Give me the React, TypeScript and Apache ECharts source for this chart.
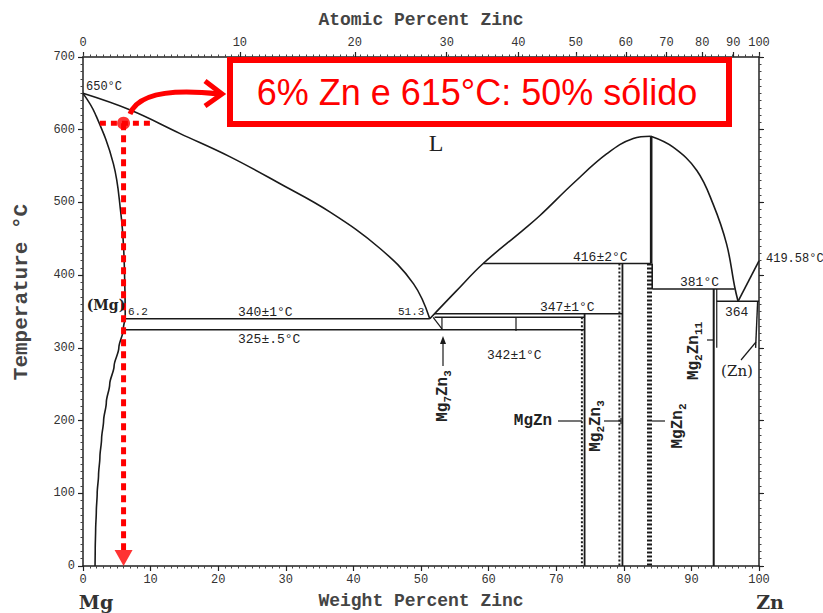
import React, { useEffect, useRef } from "react";
import * as echarts from "echarts";

// ---- data (wt% Zn, °C) ----
const atomicTickLabels = ["0", "10", "20", "30", "40", "50", "60", "70", "80", "90", "100"];
const atomicTickWt = [0, 23.2, 40.2, 53.8, 64.4, 72.9, 80.3, 86.3, 91.6, 96.2, 100];

const liquidusMg = [[0, 650], [7, 627], [14.3, 595], [21.7, 563], [29.1, 526], [36.5, 487], [43.9, 437], [48.9, 388], [51.3, 340]];
const solidusMg = [[0, 650], [1.8, 622], [4.5, 553], [5.6, 485], [6.0, 439], [6.2, 380], [6.25, 340]];
const solvusMg = [[6.25, 340], [5.95, 325], [5.3, 300], [4.6, 275], [3.95, 250], [3.45, 225], [3.05, 200], [2.75, 175], [2.5, 150], [2.3, 125], [2.1, 100], [1.97, 75], [1.87, 50], [1.81, 25], [1.78, 0]];
const liquidusMid = [[51.3, 340], [55.2, 378], [59.2, 416], [65.1, 462], [67.6, 482], [72.5, 526], [77.5, 567], [81.4, 588], [84, 591]];
const liquidusZnRich = [[84, 591], [87.3, 576], [90.8, 544], [93.2, 498], [95.2, 443], [96.4, 384], [96.9, 364]];
const liquidusZn = [[96.9, 364], [100, 419.58]];

const eutectic340 = [[6.25, 340], [51.3, 340]];
const eutectoid325 = [[5.95, 325], [74.2, 325]];
const line342 = [[52.0, 342], [74.2, 342]];
const mg7zn3Left = [[51.8, 342], [53.1, 326]];
const mg7zn3Right = [[53.1, 342], [53.1, 325]];
const peritectic347 = [[52.0, 347], [79.8, 347]];
const mgZnSolid = [[74.2, 347], [74.2, 0]];
const mgZnDotted = [[73.8, 342], [73.8, 0]];
const peritectic416 = [[59.2, 416], [84.0, 416]];
const mg2zn3Solid = [[79.8, 416], [79.8, 0]];
const mg2zn3Dotted = [[79.35, 416], [79.35, 0]];
const mgZn2Top = [[84.05, 591], [84.05, 416]];
const mgZn2Right = [[84.2, 416], [84.2, 381]];
const mgZn2Band = [[83.8, 416], [83.8, 0]];
const peritectic381 = [[84.2, 381], [96.4, 381]];
const mg2zn11A = [[93.3, 381], [93.3, 0]];
const mg2zn11B = [[93.75, 381], [93.75, 300]];
const eutectic364 = [[93.75, 364], [100, 364]];
const znSolvus = [[99.8, 364], [99.5, 300]];

// red annotation
const markComp = 6;
const markTemp = 609;
const redHoriz = [[2.5, markTemp], [10.2, markTemp]];
const redVert = [[markComp, markTemp], [markComp, 22]];
const redDot = [[markComp, markTemp]];
const redArrowHead = [[markComp, 11]];

const BLACK = "#1a1a1a";
const MONO = "'Liberation Mono', 'DejaVu Sans Mono', monospace";

function ln(data: number[][], width = 1.6, type: any = "solid", smooth: any = false, color = BLACK, z = 2, mono?: string) {
  return {
    type: "line",
    data,
    xAxisIndex: 0,
    yAxisIndex: 0,
    symbol: "none",
    showSymbol: false,
    silent: true,
    smooth,
    smoothMonotone: mono,
    z,
    lineStyle: { color, width, type, cap: "butt" },
  };
}

function txt(text: string, x: number, y: number, fontSize = 13, align = "left", extra: any = {}) {
  return {
    type: "text",
    x,
    y,
    z: 50,
    style: {
      text,
      fill: "#222",
      fontFamily: MONO,
      fontSize,
      align,
      verticalAlign: "middle",
      textAlign: align,
      textVerticalAlign: "middle",
      ...extra,
    },
  };
}

const richSub = {
  a: { fontFamily: MONO, fontSize: 16, fontWeight: "bold", lineHeight: 20, verticalAlign: "middle", fill: "#222", color: "#222" },
  s: { fontFamily: MONO, fontSize: 11, fontWeight: "bold", lineHeight: 10, verticalAlign: "bottom", fill: "#222", color: "#222" },
};

function rotTxt(text: string, x: number, y: number) {
  return {
    type: "text",
    x,
    y,
    rotation: Math.PI / 2,
    z: 50,
    style: {
      text,
      rich: richSub,
      align: "center",
      verticalAlign: "middle",
      textAlign: "center",
      textVerticalAlign: "middle",
    },
  };
}

function seg(x1: number, y1: number, x2: number, y2: number, w = 1.3) {
  return { type: "line", z: 50, shape: { x1, y1, x2, y2 }, style: { stroke: BLACK, lineWidth: w } };
}

export default function App() {
  const ref = useRef<HTMLDivElement>(null);
  useEffect(() => {
    document.body.style.margin = "0";
    const chart = echarts.init(ref.current!, null, { renderer: "svg" });
    const axisLineStyle = { color: "#222", width: 1.5 };
    const option: any = {
      animation: false,
      backgroundColor: "#fff",
      grid: { left: 83, right: 64, top: 57, bottom: 47, containLabel: false, outerBoundsMode: "none" },
      xAxis: [
        {
          type: "value", position: "bottom", min: 0, max: 100, interval: 10,
          axisLine: { show: true, onZero: false, lineStyle: axisLineStyle },
          axisTick: { show: true, length: 5, lineStyle: { color: "#222", width: 1.2 } },
          minorTick: { show: true, splitNumber: 10, length: 2.5, lineStyle: { color: "#444", width: 1 } },
          axisLabel: { fontFamily: MONO, fontSize: 12, color: "#333", margin: 8 },
          splitLine: { show: false }, minorSplitLine: { show: false },
        },
        {
          type: "value", position: "top", min: 0, max: 100,
          axisLine: { show: true, onZero: false, lineStyle: axisLineStyle },
          axisTick: { show: true, length: 5, customValues: atomicTickWt, lineStyle: { color: "#222", width: 1.2 } },
          axisLabel: {
            fontFamily: MONO, fontSize: 12, color: "#333", margin: 8,
            customValues: atomicTickWt,
            formatter: (v: number) => {
              let best = 0;
              atomicTickWt.forEach((w, i) => { if (Math.abs(w - v) < Math.abs(atomicTickWt[best] - v)) best = i; });
              return atomicTickLabels[best];
            },
          },
          splitLine: { show: false },
        },
        {
          type: "value", position: "top", min: 0, max: 100, interval: 1,
          axisLine: { show: false, onZero: false },
          axisTick: { show: true, length: 2.5, lineStyle: { color: "#444", width: 1 } },
          axisLabel: { show: false },
          splitLine: { show: false },
        },
      ],
      yAxis: [
        {
          type: "value", position: "left", min: 0, max: 700, interval: 100,
          axisLine: { show: true, onZero: false, lineStyle: axisLineStyle },
          axisTick: { show: true, length: 5, lineStyle: { color: "#222", width: 1.2 } },
          minorTick: { show: true, splitNumber: 10, length: 2.5, lineStyle: { color: "#444", width: 1 } },
          axisLabel: { fontFamily: MONO, fontSize: 12, color: "#333", margin: 8 },
          splitLine: { show: false }, minorSplitLine: { show: false },
        },
        {
          type: "value", position: "right", min: 0, max: 700, interval: 100,
          axisLine: { show: true, onZero: false, lineStyle: axisLineStyle },
          axisTick: { show: true, length: 5, lineStyle: { color: "#222", width: 1.2 } },
          minorTick: { show: true, splitNumber: 10, length: 2.5, lineStyle: { color: "#444", width: 1 } },
          axisLabel: { show: false },
          splitLine: { show: false }, minorSplitLine: { show: false },
        },
      ],
      series: [
        ln(liquidusMg, 1.6, "solid", 0.4),
        ln(solidusMg, 1.6, "solid", 0.4),
        ln(solvusMg, 1.6, "solid", 0.3, BLACK, 2, "y"),
        ln(liquidusMid, 1.6, "solid", 0.4),
        ln(liquidusZnRich, 1.6, "solid", 0.4),
        ln(liquidusZn),
        ln(eutectic340),
        ln(eutectoid325),
        ln(line342),
        ln(mg7zn3Left, 1.2),
        ln(mg7zn3Right, 1.2),
        ln(peritectic347),
        ln(mgZnSolid, 1.8),
        ln(mgZnDotted, 2, [2, 2]),
        ln(peritectic416),
        ln(mg2zn3Solid, 1.8),
        ln(mg2zn3Dotted, 2, [2, 2]),
        ln(mgZn2Top, 2.6),
        ln(mgZn2Right, 1.6),
        ln(mgZn2Band, 5, [2, 2]),
        ln(peritectic381),
        ln(mg2zn11A, 2),
        ln(mg2zn11B, 1.2),
        ln(eutectic364),
        ln(znSolvus, 1.4),
        ln(redHoriz, 5, [6, 5], false, "#ff0000", 5),
        ln(redVert, 5, [7, 5], false, "#ff0000", 5),
        {
          type: "scatter", data: redDot, xAxisIndex: 0, yAxisIndex: 0, symbol: "circle", symbolSize: 13,
          itemStyle: { color: "#ff0000" }, z: 6, silent: true,
        },
        {
          type: "scatter", data: redArrowHead, xAxisIndex: 0, yAxisIndex: 0, symbol: "triangle", symbolRotate: 180,
          symbolSize: [18, 16], itemStyle: { color: "#ff0000" }, z: 6, silent: true,
        },
      ],
      graphic: [
        // axis names
        txt("Atomic Percent Zinc", 421, 20, 18, "center", { fontWeight: "bold", fill: "#444" }),
        txt("Weight Percent Zinc", 421, 601, 18, "center", { fontWeight: "bold", fill: "#444" }),
        {
          type: "text", x: 21, y: 292, rotation: Math.PI / 2, z: 50,
          style: { text: "Temperature °C", fill: "#444", fontFamily: MONO, fontWeight: "bold", fontSize: 21,
            align: "center", verticalAlign: "middle", textAlign: "center", textVerticalAlign: "middle" },
        },
        txt("Mg", 96, 602, 19, "center", { fontFamily: "'DejaVu Serif', serif", fontWeight: "bold", fill: "#333" }),
        txt("Zn", 770, 602, 19, "center", { fontFamily: "'DejaVu Serif', serif", fontWeight: "bold", fill: "#333" }),
        // diagram annotations
        txt("650°C", 86, 87, 12),
        txt("L", 436, 143, 24, "center", { fontFamily: "'Liberation Serif', serif" }),
        txt("(Mg)", 106, 305, 14, "center", { fontFamily: "'DejaVu Serif', serif", fontWeight: "bold" }),
        txt("6.2", 128, 312, 11),
        txt("340±1°C", 238, 312, 13),
        txt("325±.5°C", 238, 339, 13),
        txt("51.3", 398, 312, 11),
        txt("347±1°C", 540, 307, 13),
        txt("342±1°C", 487, 355, 13),
        txt("416±2°C", 573, 257, 13),
        txt("381°C", 680, 282, 13),
        txt("364", 725, 312, 13),
        txt("419.58°C", 766, 259, 12),
        txt("(Zn)", 737, 371, 15, "center", { fontFamily: "'DejaVu Serif', serif" }),
        txt("MgZn", 533, 421, 16, "center", { fontWeight: "bold" }),
        rotTxt("{a|Mg}{s|7}{a|Zn}{s|3}", 443, 396),
        rotTxt("{a|Mg}{s|2}{a|Zn}{s|3}", 596, 426),
        rotTxt("{a|MgZn}{s|2}", 678, 426),
        rotTxt("{a|Mg}{s|2}{a|Zn}{s|11}", 694, 351),
        // leaders
        seg(443, 366, 443, 342, 1.2),
        { type: "polygon", z: 50, shape: { points: [[443, 336], [440, 344], [446, 344]] }, style: { fill: BLACK } },
        seg(516, 318, 516, 331, 1.2),
        seg(558, 421, 582, 421, 1.2),
        seg(604, 421, 621, 421, 1.2),
        seg(621, 418, 621, 424, 1.2),
        seg(652, 421, 665, 421, 1.2),
        seg(707, 340, 714, 340, 1.2),
        seg(741, 360, 756, 342, 1.2),
        // red callout
        {
          type: "rect", z: 60, shape: { x: 230, y: 60, width: 499, height: 64 },
          style: { fill: "#ffffff", stroke: "#ff0000", lineWidth: 6 },
        },
        {
          type: "text", x: 477, y: 92, z: 61,
          style: { text: "6% Zn e 615°C: 50% sólido", fill: "#ff0000", fontFamily: "'Liberation Sans', Arial, sans-serif",
            fontSize: 36, align: "center", verticalAlign: "middle", textAlign: "center", textVerticalAlign: "middle" },
        },
        {
          type: "bezierCurve", z: 60,
          shape: { x1: 130, y1: 114, cpx1: 137, cpy1: 96, cpx2: 165, cpy2: 88, x2: 219, y2: 94 },
          style: { stroke: "#ff0000", lineWidth: 5, fill: "none" },
        },
        {
          type: "polyline", z: 60,
          shape: { points: [[205, 81], [222, 94], [205, 106]] },
          style: { stroke: "#ff0000", lineWidth: 5, fill: "none" },
        },
      ],
    };
    chart.setOption(option);
    return () => chart.dispose();
  }, []);
  return <div ref={ref} style={{ position: "absolute", left: 0, top: 0, width: 823, height: 613 }} />;
}
